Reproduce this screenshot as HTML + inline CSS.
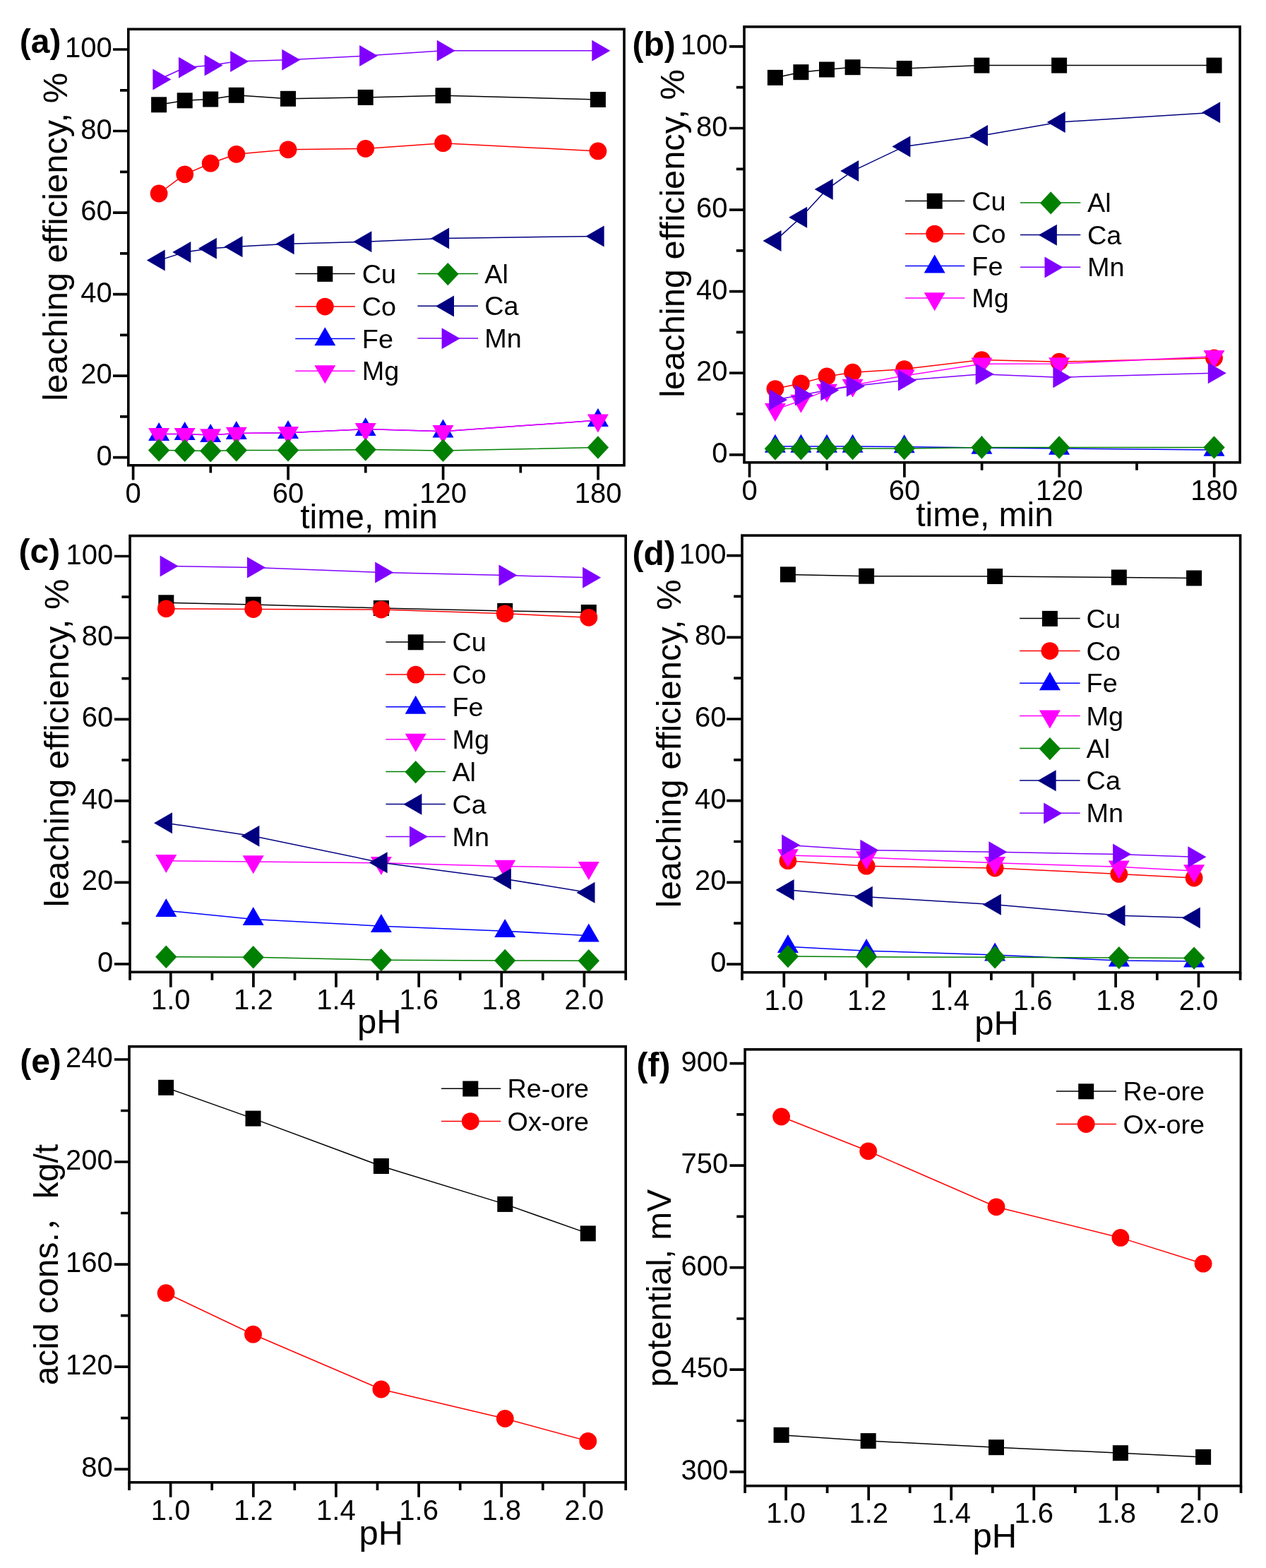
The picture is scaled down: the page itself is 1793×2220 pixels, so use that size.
<!DOCTYPE html>
<html lang="en">
<head>
<meta charset="utf-8">
<title>Leaching efficiency, acid consumption and potential</title>
<style>
html,body{margin:0;padding:0;background:#fff;}
body{width:1793px;height:2220px;overflow:hidden;}
svg{display:block;}
svg text{font-family:"Liberation Sans", "Noto Sans CJK SC", sans-serif;fill:#000;}
</style>
</head>
<body>
<svg width="1793" height="2220" viewBox="0 0 1793 2220">
<rect width="1793" height="2220" fill="#fff"/>
<g>
<polyline points="225.1,148.3 261.7,142.3 298.2,140.5 334.8,134.8 408,139.8 517.7,137.9 627.5,135.3 846.9,141" fill="none" stroke="#000000" stroke-width="1.5"/>
<rect x="214.1" y="137.3" width="22" height="22" fill="#000000"/>
<rect x="250.7" y="131.3" width="22" height="22" fill="#000000"/>
<rect x="287.2" y="129.5" width="22" height="22" fill="#000000"/>
<rect x="323.8" y="123.8" width="22" height="22" fill="#000000"/>
<rect x="397" y="128.8" width="22" height="22" fill="#000000"/>
<rect x="506.7" y="126.9" width="22" height="22" fill="#000000"/>
<rect x="616.5" y="124.3" width="22" height="22" fill="#000000"/>
<rect x="835.9" y="130" width="22" height="22" fill="#000000"/>
<polyline points="225.1,274 261.7,246.8 298.2,231.2 334.8,218.3 408,211.8 517.7,210.5 627.5,202.7 846.9,213.9" fill="none" stroke="#ff0000" stroke-width="1.5"/>
<circle cx="225.1" cy="274" r="12.4" fill="#ff0000"/>
<circle cx="261.7" cy="246.8" r="12.4" fill="#ff0000"/>
<circle cx="298.2" cy="231.2" r="12.4" fill="#ff0000"/>
<circle cx="334.8" cy="218.3" r="12.4" fill="#ff0000"/>
<circle cx="408" cy="211.8" r="12.4" fill="#ff0000"/>
<circle cx="517.7" cy="210.5" r="12.4" fill="#ff0000"/>
<circle cx="627.5" cy="202.7" r="12.4" fill="#ff0000"/>
<circle cx="846.9" cy="213.9" r="12.4" fill="#ff0000"/>
<polyline points="225.1,614.6 261.7,614.6 298.2,615.9 334.8,613.5 408,612.8 517.7,607.6 627.5,610.7 846.9,595.1" fill="none" stroke="#0000ff" stroke-width="1.5"/>
<polygon points="225.1,598.1 240.1,624.1 210.1,624.1" fill="#0000ff"/>
<polygon points="261.7,597 276.7,623 246.7,623" fill="#0000ff"/>
<polygon points="298.2,600.1 313.2,626.1 283.2,626.1" fill="#0000ff"/>
<polygon points="334.8,596.1 349.8,622.1 319.8,622.1" fill="#0000ff"/>
<polygon points="408,594.9 423,620.9 393,620.9" fill="#0000ff"/>
<polygon points="517.7,590.9 532.7,616.9 502.7,616.9" fill="#0000ff"/>
<polygon points="627.5,593.5 642.5,619.5 612.5,619.5" fill="#0000ff"/>
<polygon points="846.9,577.9 861.9,603.9 831.9,603.9" fill="#0000ff"/>
<polyline points="225.1,614.6 261.7,614.6 298.2,615.9 334.8,613.5 408,612.8 517.7,607.6 627.5,610.7 846.9,595.1" fill="none" stroke="#ff00ff" stroke-width="1.5"/>
<polygon points="225.1,631.9 240.1,605.9 210.1,605.9" fill="#ff00ff"/>
<polygon points="261.7,631.9 276.7,605.9 246.7,605.9" fill="#ff00ff"/>
<polygon points="298.2,633.2 313.2,607.2 283.2,607.2" fill="#ff00ff"/>
<polygon points="334.8,630.8 349.8,604.8 319.8,604.8" fill="#ff00ff"/>
<polygon points="408,630.1 423,604.1 393,604.1" fill="#ff00ff"/>
<polygon points="517.7,624.9 532.7,598.9 502.7,598.9" fill="#ff00ff"/>
<polygon points="627.5,628 642.5,602 612.5,602" fill="#ff00ff"/>
<polygon points="846.9,612.4 861.9,586.4 831.9,586.4" fill="#ff00ff"/>
<polyline points="225.1,637.4 261.7,637.9 298.2,638.4 334.8,637.4 408,637.4 517.7,636.6 627.5,637.9 846.9,633.5" fill="none" stroke="#008000" stroke-width="1.5"/>
<polygon points="225.1,621.2 240.3,637.4 225.1,653.6 209.9,637.4" fill="#008000"/>
<polygon points="261.7,621.7 276.9,637.9 261.7,654.1 246.5,637.9" fill="#008000"/>
<polygon points="298.2,622.2 313.4,638.4 298.2,654.6 283,638.4" fill="#008000"/>
<polygon points="334.8,621.2 350,637.4 334.8,653.6 319.6,637.4" fill="#008000"/>
<polygon points="408,621.2 423.2,637.4 408,653.6 392.8,637.4" fill="#008000"/>
<polygon points="517.7,620.4 532.9,636.6 517.7,652.8 502.5,636.6" fill="#008000"/>
<polygon points="627.5,621.7 642.7,637.9 627.5,654.1 612.3,637.9" fill="#008000"/>
<polygon points="846.9,617.3 862.1,633.5 846.9,649.7 831.7,633.5" fill="#008000"/>
<polyline points="225.1,368.6 261.7,357 298.2,351.8 334.8,349.2 408,345.3 517.7,342.2 627.5,337.5 846.9,334.4" fill="none" stroke="#000080" stroke-width="1.5"/>
<polygon points="207.8,368.6 233.7,353.6 233.7,383.6" fill="#000080"/>
<polygon points="244.3,357 270.3,342 270.3,372" fill="#000080"/>
<polygon points="280.9,351.8 306.9,336.8 306.9,366.8" fill="#000080"/>
<polygon points="317.5,349.2 343.5,334.2 343.5,364.2" fill="#000080"/>
<polygon points="390.7,345.3 416.6,330.3 416.6,360.3" fill="#000080"/>
<polygon points="500.4,342.2 526.4,327.2 526.4,357.2" fill="#000080"/>
<polygon points="610.1,337.5 636.1,322.5 636.1,352.5" fill="#000080"/>
<polygon points="829.6,334.4 855.6,319.4 855.6,349.4" fill="#000080"/>
<polyline points="225.1,112.5 261.7,95.7 298.2,92.6 334.8,86.9 408,84.8 517.7,79.1 627.5,71.8 846.9,71.8" fill="none" stroke="#8000ff" stroke-width="1.5"/>
<polygon points="242.4,112.5 216.4,97.5 216.4,127.5" fill="#8000ff"/>
<polygon points="279,95.7 253,80.7 253,110.7" fill="#8000ff"/>
<polygon points="315.6,92.6 289.6,77.6 289.6,107.6" fill="#8000ff"/>
<polygon points="352.1,86.9 326.2,71.9 326.2,101.9" fill="#8000ff"/>
<polygon points="425.3,84.8 399.3,69.8 399.3,99.8" fill="#8000ff"/>
<polygon points="535,79.1 509.1,64.1 509.1,94.1" fill="#8000ff"/>
<polygon points="644.8,71.8 618.8,56.8 618.8,86.8" fill="#8000ff"/>
<polygon points="864.3,71.8 838.3,56.8 838.3,86.8" fill="#8000ff"/>
<rect x="181.8" y="41.3" width="702.2" height="617.5" fill="none" stroke="#000" stroke-width="3.6"/>
<path d="M160 647.7H181.8M160 532.2H181.8M160 416.6H181.8M160 301.1H181.8M160 185.5H181.8M160 70H181.8M170 589.9H181.8M170 474.4H181.8M170 358.9H181.8M170 243.3H181.8M170 127.8H181.8M188.6 658.8V679.6M408.1 658.8V679.6M627.6 658.8V679.6M847.1 658.8V679.6M298.3 658.8V669.6M517.8 658.8V669.6M737.3 658.8V669.6" fill="none" stroke="#000" stroke-width="3.7"/>
<text x="158.8" y="658.7" font-size="40" text-anchor="end">0</text>
<text x="158.8" y="543.2" font-size="40" text-anchor="end">20</text>
<text x="158.8" y="427.6" font-size="40" text-anchor="end">40</text>
<text x="158.8" y="312.1" font-size="40" text-anchor="end">60</text>
<text x="158.8" y="196.5" font-size="40" text-anchor="end">80</text>
<text x="158.8" y="81" font-size="40" text-anchor="end">100</text>
<text x="188.6" y="712.2" font-size="40" text-anchor="middle">0</text>
<text x="408.1" y="712.2" font-size="40" text-anchor="middle">60</text>
<text x="627.6" y="712.2" font-size="40" text-anchor="middle">120</text>
<text x="847.1" y="712.2" font-size="40" text-anchor="middle">180</text>
<text x="522.6" y="748" font-size="48" text-anchor="middle">time, min</text>
<text x="95" y="335.3" font-size="48.8" text-anchor="middle" transform="rotate(-90 95 335.3)">leaching efficiency, %</text>
<text x="27.8" y="74.5" font-size="48" font-weight="bold">(a)</text>
<path d="M418.3 387.6H502.8" stroke="#000000" stroke-width="1.5"/>
<rect x="449.3" y="376.9" width="22" height="22" fill="#000000"/>
<text x="512.8" y="400.7" font-size="37.8">Cu</text>
<path d="M418.3 433.9H502.8" stroke="#ff0000" stroke-width="1.5"/>
<circle cx="460.3" cy="434.1" r="12.4" fill="#ff0000"/>
<text x="512.8" y="447" font-size="37.8">Co</text>
<path d="M418.3 479.4H502.8" stroke="#0000ff" stroke-width="1.5"/>
<polygon points="460.3,463.3 475.3,489.3 445.3,489.3" fill="#0000ff"/>
<text x="512.8" y="492.5" font-size="37.8">Fe</text>
<path d="M418.3 525.2H502.8" stroke="#ff00ff" stroke-width="1.5"/>
<polygon points="460.3,543.3 475.3,517.3 445.3,517.3" fill="#ff00ff"/>
<text x="512.8" y="538.3" font-size="37.8">Mg</text>
<path d="M591.5 387.6H677" stroke="#008000" stroke-width="1.5"/>
<polygon points="634.3,371.9 649.5,388.1 634.3,404.3 619.1,388.1" fill="#008000"/>
<text x="686.3" y="400.7" font-size="37.8">Al</text>
<path d="M591.5 433.2H677" stroke="#000080" stroke-width="1.5"/>
<polygon points="617,433.4 643,418.4 643,448.4" fill="#000080"/>
<text x="686.3" y="446.3" font-size="37.8">Ca</text>
<path d="M591.5 479.1H677" stroke="#8000ff" stroke-width="1.5"/>
<polygon points="651.6,479.3 625.6,464.3 625.6,494.3" fill="#8000ff"/>
<text x="686.3" y="492.2" font-size="37.8">Mn</text>
</g>
<g>
<polyline points="1097.9,109.9 1134.4,102.2 1171,98.5 1207.6,95.2 1280.7,97 1390.4,92.6 1500.1,92.6 1719.5,92.6" fill="none" stroke="#000000" stroke-width="1.5"/>
<rect x="1086.9" y="98.9" width="22" height="22" fill="#000000"/>
<rect x="1123.4" y="91.2" width="22" height="22" fill="#000000"/>
<rect x="1160" y="87.5" width="22" height="22" fill="#000000"/>
<rect x="1196.6" y="84.2" width="22" height="22" fill="#000000"/>
<rect x="1269.7" y="86" width="22" height="22" fill="#000000"/>
<rect x="1379.4" y="81.6" width="22" height="22" fill="#000000"/>
<rect x="1489.1" y="81.6" width="22" height="22" fill="#000000"/>
<rect x="1708.5" y="81.6" width="22" height="22" fill="#000000"/>
<polyline points="1097.9,550.6 1134.4,542.8 1171,532.9 1207.6,527.2 1280.7,522.6 1390.4,509.6 1500.1,512.2 1719.5,507" fill="none" stroke="#ff0000" stroke-width="1.5"/>
<circle cx="1097.9" cy="550.6" r="12.4" fill="#ff0000"/>
<circle cx="1134.4" cy="542.8" r="12.4" fill="#ff0000"/>
<circle cx="1171" cy="532.9" r="12.4" fill="#ff0000"/>
<circle cx="1207.6" cy="527.2" r="12.4" fill="#ff0000"/>
<circle cx="1280.7" cy="522.6" r="12.4" fill="#ff0000"/>
<circle cx="1390.4" cy="509.6" r="12.4" fill="#ff0000"/>
<circle cx="1500.1" cy="512.2" r="12.4" fill="#ff0000"/>
<circle cx="1719.5" cy="507" r="12.4" fill="#ff0000"/>
<polyline points="1097.9,632 1134.4,632 1171,632 1207.6,632 1280.7,632.5 1390.4,634 1500.1,635 1719.5,637" fill="none" stroke="#0000ff" stroke-width="1.5"/>
<polygon points="1097.9,614.7 1112.9,640.7 1082.9,640.7" fill="#0000ff"/>
<polygon points="1134.4,614.7 1149.4,640.7 1119.4,640.7" fill="#0000ff"/>
<polygon points="1171,614.7 1186,640.7 1156,640.7" fill="#0000ff"/>
<polygon points="1207.6,614.7 1222.6,640.7 1192.6,640.7" fill="#0000ff"/>
<polygon points="1280.7,615.2 1295.7,641.2 1265.7,641.2" fill="#0000ff"/>
<polygon points="1390.4,616.7 1405.4,642.7 1375.4,642.7" fill="#0000ff"/>
<polygon points="1500.1,617.7 1515.1,643.7 1485.1,643.7" fill="#0000ff"/>
<polygon points="1719.5,619.7 1734.5,645.7 1704.5,645.7" fill="#0000ff"/>
<polyline points="1097.9,579.8 1134.4,567.4 1171,552.4 1207.6,545.4 1280.7,532 1390.4,515.3 1500.1,515 1719.5,504.7" fill="none" stroke="#ff00ff" stroke-width="1.5"/>
<polygon points="1097.9,597.1 1112.9,571.1 1082.9,571.1" fill="#ff00ff"/>
<polygon points="1134.4,584.7 1149.4,558.7 1119.4,558.7" fill="#ff00ff"/>
<polygon points="1171,569.7 1186,543.7 1156,543.7" fill="#ff00ff"/>
<polygon points="1207.6,562.7 1222.6,536.7 1192.6,536.7" fill="#ff00ff"/>
<polygon points="1280.7,549.3 1295.7,523.3 1265.7,523.3" fill="#ff00ff"/>
<polygon points="1390.4,532.6 1405.4,506.6 1375.4,506.6" fill="#ff00ff"/>
<polygon points="1500.1,532.3 1515.1,506.3 1485.1,506.3" fill="#ff00ff"/>
<polygon points="1719.5,522 1734.5,496 1704.5,496" fill="#ff00ff"/>
<polyline points="1097.9,635.3 1134.4,635.3 1171,635.3 1207.6,635 1280.7,635 1390.4,633.5 1500.1,633.5 1719.5,633.5" fill="none" stroke="#008000" stroke-width="1.5"/>
<polygon points="1097.9,619.1 1113.1,635.3 1097.9,651.5 1082.7,635.3" fill="#008000"/>
<polygon points="1134.4,619.1 1149.6,635.3 1134.4,651.5 1119.2,635.3" fill="#008000"/>
<polygon points="1171,619.1 1186.2,635.3 1171,651.5 1155.8,635.3" fill="#008000"/>
<polygon points="1207.6,618.8 1222.8,635 1207.6,651.2 1192.4,635" fill="#008000"/>
<polygon points="1280.7,618.8 1295.9,635 1280.7,651.2 1265.5,635" fill="#008000"/>
<polygon points="1390.4,617.3 1405.6,633.5 1390.4,649.7 1375.2,633.5" fill="#008000"/>
<polygon points="1500.1,617.3 1515.3,633.5 1500.1,649.7 1484.9,633.5" fill="#008000"/>
<polygon points="1719.5,617.3 1734.7,633.5 1719.5,649.7 1704.3,633.5" fill="#008000"/>
<polyline points="1097.9,340.9 1134.4,307.7 1171,268.1 1207.6,242.1 1280.7,207.4 1390.4,191.9 1500.1,172.9 1719.5,159.2" fill="none" stroke="#000080" stroke-width="1.5"/>
<polygon points="1080.5,340.9 1106.5,325.9 1106.5,355.9" fill="#000080"/>
<polygon points="1117.1,307.7 1143.1,292.7 1143.1,322.7" fill="#000080"/>
<polygon points="1153.7,268.1 1179.7,253.1 1179.7,283.1" fill="#000080"/>
<polygon points="1190.2,242.1 1216.2,227.1 1216.2,257.1" fill="#000080"/>
<polygon points="1263.4,207.4 1289.4,192.4 1289.4,222.4" fill="#000080"/>
<polygon points="1373.1,191.9 1399,176.9 1399,206.9" fill="#000080"/>
<polygon points="1482.8,172.9 1508.7,157.9 1508.7,187.9" fill="#000080"/>
<polygon points="1702.1,159.2 1728.1,144.2 1728.1,174.2" fill="#000080"/>
<polyline points="1097.9,566.1 1134.4,559.4 1171,552.4 1207.6,546.7 1280.7,538.6 1390.4,529.8 1500.1,534.2 1719.5,528.3" fill="none" stroke="#8000ff" stroke-width="1.5"/>
<polygon points="1115.2,566.1 1089.2,551.1 1089.2,581.1" fill="#8000ff"/>
<polygon points="1151.8,559.4 1125.8,544.4 1125.8,574.4" fill="#8000ff"/>
<polygon points="1188.3,552.4 1162.3,537.4 1162.3,567.4" fill="#8000ff"/>
<polygon points="1224.9,546.7 1198.9,531.7 1198.9,561.7" fill="#8000ff"/>
<polygon points="1298,538.6 1272,523.6 1272,553.6" fill="#8000ff"/>
<polygon points="1407.7,529.8 1381.7,514.8 1381.7,544.8" fill="#8000ff"/>
<polygon points="1517.4,534.2 1491.4,519.2 1491.4,549.2" fill="#8000ff"/>
<polygon points="1736.8,528.3 1710.8,513.3 1710.8,543.3" fill="#8000ff"/>
<rect x="1054" y="37.9" width="702.1" height="616.9" fill="none" stroke="#000" stroke-width="3.6"/>
<path d="M1033 643.8H1054M1033 528.2H1054M1033 412.6H1054M1033 297.1H1054M1033 181.5H1054M1033 65.9H1054M1042.8 586H1054M1042.8 470.4H1054M1042.8 354.8H1054M1042.8 239.3H1054M1042.8 123.7H1054M1061.5 654.8V675.7M1280.9 654.8V675.7M1500.3 654.8V675.7M1719.7 654.8V675.7M1171.2 654.8V665.7M1390.6 654.8V665.7M1610 654.8V665.7" fill="none" stroke="#000" stroke-width="3.7"/>
<text x="1030.4" y="654.8" font-size="40" text-anchor="end">0</text>
<text x="1030.4" y="539.2" font-size="40" text-anchor="end">20</text>
<text x="1030.4" y="423.6" font-size="40" text-anchor="end">40</text>
<text x="1030.4" y="308.1" font-size="40" text-anchor="end">60</text>
<text x="1030.4" y="192.5" font-size="40" text-anchor="end">80</text>
<text x="1030.4" y="76.9" font-size="40" text-anchor="end">100</text>
<text x="1061.5" y="707.9" font-size="40" text-anchor="middle">0</text>
<text x="1280.9" y="707.9" font-size="40" text-anchor="middle">60</text>
<text x="1500.3" y="707.9" font-size="40" text-anchor="middle">120</text>
<text x="1719.7" y="707.9" font-size="40" text-anchor="middle">180</text>
<text x="1394.6" y="745.3" font-size="48" text-anchor="middle">time, min</text>
<text x="969.5" y="330.4" font-size="48.8" text-anchor="middle" transform="rotate(-90 969.5 330.4)">leaching efficiency, %</text>
<text x="895.5" y="79.1" font-size="48" font-weight="bold">(b)</text>
<path d="M1281.9 284.4H1366.3" stroke="#000000" stroke-width="1.5"/>
<rect x="1312.7" y="273.7" width="22" height="22" fill="#000000"/>
<text x="1376.3" y="297.5" font-size="37.8">Cu</text>
<path d="M1281.9 330.9H1366.3" stroke="#ff0000" stroke-width="1.5"/>
<circle cx="1323.7" cy="331.1" r="12.4" fill="#ff0000"/>
<text x="1376.3" y="344" font-size="37.8">Co</text>
<path d="M1281.9 376.5H1366.3" stroke="#0000ff" stroke-width="1.5"/>
<polygon points="1323.7,360.4 1338.7,386.4 1308.7,386.4" fill="#0000ff"/>
<text x="1376.3" y="389.6" font-size="37.8">Fe</text>
<path d="M1281.9 422.1H1366.3" stroke="#ff00ff" stroke-width="1.5"/>
<polygon points="1323.7,440.2 1338.7,414.2 1308.7,414.2" fill="#ff00ff"/>
<text x="1376.3" y="435.2" font-size="37.8">Mg</text>
<path d="M1445 286.9H1530.3" stroke="#008000" stroke-width="1.5"/>
<polygon points="1488.2,271.2 1503.4,287.4 1488.2,303.6 1473,287.4" fill="#008000"/>
<text x="1540" y="300" font-size="37.8">Al</text>
<path d="M1445 332.6H1530.3" stroke="#000080" stroke-width="1.5"/>
<polygon points="1470.9,332.8 1496.9,317.8 1496.9,347.8" fill="#000080"/>
<text x="1540" y="345.7" font-size="37.8">Ca</text>
<path d="M1445 378.3H1530.3" stroke="#8000ff" stroke-width="1.5"/>
<polygon points="1505.5,378.5 1479.5,363.5 1479.5,393.5" fill="#8000ff"/>
<text x="1540" y="391.4" font-size="37.8">Mn</text>
</g>
<g>
<polyline points="235.3,853.3 358.7,855.9 539.9,861 715.2,864.9 833.8,867" fill="none" stroke="#000000" stroke-width="1.5"/>
<rect x="224.3" y="842.3" width="22" height="22" fill="#000000"/>
<rect x="347.7" y="844.9" width="22" height="22" fill="#000000"/>
<rect x="528.9" y="850" width="22" height="22" fill="#000000"/>
<rect x="704.2" y="853.9" width="22" height="22" fill="#000000"/>
<rect x="822.8" y="856" width="22" height="22" fill="#000000"/>
<polyline points="235.3,861.8 358.7,862.6 539.9,863.1 715.2,868.8 833.8,874.3" fill="none" stroke="#ff0000" stroke-width="1.5"/>
<circle cx="235.3" cy="861.8" r="12.4" fill="#ff0000"/>
<circle cx="358.7" cy="862.6" r="12.4" fill="#ff0000"/>
<circle cx="539.9" cy="863.1" r="12.4" fill="#ff0000"/>
<circle cx="715.2" cy="868.8" r="12.4" fill="#ff0000"/>
<circle cx="833.8" cy="874.3" r="12.4" fill="#ff0000"/>
<polyline points="235.3,1289.2 358.7,1301.4 539.9,1311.2 715.2,1318.2 833.8,1324.7" fill="none" stroke="#0000ff" stroke-width="1.5"/>
<polygon points="235.3,1271.9 250.3,1297.9 220.3,1297.9" fill="#0000ff"/>
<polygon points="358.7,1284.1 373.7,1310.1 343.7,1310.1" fill="#0000ff"/>
<polygon points="539.9,1293.9 554.9,1319.9 524.9,1319.9" fill="#0000ff"/>
<polygon points="715.2,1300.9 730.2,1326.9 700.2,1326.9" fill="#0000ff"/>
<polygon points="833.8,1307.4 848.8,1333.4 818.8,1333.4" fill="#0000ff"/>
<polyline points="235.3,1218.7 358.7,1220 539.9,1221.8 715.2,1226.5 833.8,1228.6" fill="none" stroke="#ff00ff" stroke-width="1.5"/>
<polygon points="235.3,1236 250.3,1210 220.3,1210" fill="#ff00ff"/>
<polygon points="358.7,1237.3 373.7,1211.3 343.7,1211.3" fill="#ff00ff"/>
<polygon points="539.9,1239.1 554.9,1213.1 524.9,1213.1" fill="#ff00ff"/>
<polygon points="715.2,1243.8 730.2,1217.8 700.2,1217.8" fill="#ff00ff"/>
<polygon points="833.8,1245.9 848.8,1219.9 818.8,1219.9" fill="#ff00ff"/>
<polyline points="235.3,1354.8 358.7,1355.2 539.9,1359.2 715.2,1360 833.8,1360.3" fill="none" stroke="#008000" stroke-width="1.5"/>
<polygon points="235.3,1338.6 250.5,1354.8 235.3,1371 220.1,1354.8" fill="#008000"/>
<polygon points="358.7,1339 373.9,1355.2 358.7,1371.4 343.5,1355.2" fill="#008000"/>
<polygon points="539.9,1343 555.1,1359.2 539.9,1375.4 524.7,1359.2" fill="#008000"/>
<polygon points="715.2,1343.8 730.4,1360 715.2,1376.2 700,1360" fill="#008000"/>
<polygon points="833.8,1344.1 849,1360.3 833.8,1376.5 818.6,1360.3" fill="#008000"/>
<polyline points="235.3,1165.3 358.7,1183.7 539.9,1221.3 715.2,1244.4 833.8,1263.8" fill="none" stroke="#000080" stroke-width="1.5"/>
<polygon points="218,1165.3 244,1150.3 244,1180.3" fill="#000080"/>
<polygon points="341.4,1183.7 367.4,1168.7 367.4,1198.7" fill="#000080"/>
<polygon points="522.6,1221.3 548.6,1206.3 548.6,1236.3" fill="#000080"/>
<polygon points="697.9,1244.4 723.9,1229.4 723.9,1259.4" fill="#000080"/>
<polygon points="816.5,1263.8 842.5,1248.8 842.5,1278.8" fill="#000080"/>
<polyline points="235.3,801.4 358.7,803.5 539.9,810.5 715.2,814.6 833.8,817.8" fill="none" stroke="#8000ff" stroke-width="1.5"/>
<polygon points="252.6,801.4 226.6,786.4 226.6,816.4" fill="#8000ff"/>
<polygon points="376,803.5 350,788.5 350,818.5" fill="#8000ff"/>
<polygon points="557.2,810.5 531.2,795.5 531.2,825.5" fill="#8000ff"/>
<polygon points="732.5,814.6 706.5,799.6 706.5,829.6" fill="#8000ff"/>
<polygon points="851.1,817.8 825.1,802.8 825.1,832.8" fill="#8000ff"/>
<rect x="184" y="758.6" width="702.2" height="617.7" fill="none" stroke="#000" stroke-width="3.6"/>
<path d="M162 1364.8H184M162 1249.3H184M162 1133.9H184M162 1018.4H184M162 903H184M162 787.5H184M172.4 1307.1H184M172.4 1191.6H184M172.4 1076.2H184M172.4 960.7H184M172.4 845.2H184M241.8 1376.3V1397.7M358.9 1376.3V1397.7M476 1376.3V1397.7M593.2 1376.3V1397.7M710.3 1376.3V1397.7M827.4 1376.3V1397.7M184 1376.3V1387.8M300.4 1376.3V1387.8M417.5 1376.3V1387.8M534.6 1376.3V1387.8M651.7 1376.3V1387.8M768.8 1376.3V1387.8M886.2 1376.3V1387.8" fill="none" stroke="#000" stroke-width="3.7"/>
<text x="160.2" y="1375.8" font-size="40" text-anchor="end">0</text>
<text x="160.2" y="1260.3" font-size="40" text-anchor="end">20</text>
<text x="160.2" y="1144.9" font-size="40" text-anchor="end">40</text>
<text x="160.2" y="1029.4" font-size="40" text-anchor="end">60</text>
<text x="160.2" y="914" font-size="40" text-anchor="end">80</text>
<text x="160.2" y="798.5" font-size="40" text-anchor="end">100</text>
<text x="241.8" y="1429.2" font-size="40" text-anchor="middle">1.0</text>
<text x="358.9" y="1429.2" font-size="40" text-anchor="middle">1.2</text>
<text x="476" y="1429.2" font-size="40" text-anchor="middle">1.4</text>
<text x="593.2" y="1429.2" font-size="40" text-anchor="middle">1.6</text>
<text x="710.3" y="1429.2" font-size="40" text-anchor="middle">1.8</text>
<text x="827.4" y="1429.2" font-size="40" text-anchor="middle">2.0</text>
<text x="537.2" y="1463" font-size="49" text-anchor="middle">pH</text>
<text x="97.2" y="1052" font-size="48.8" text-anchor="middle" transform="rotate(-90 97.2 1052)">leaching efficiency, %</text>
<text x="26.6" y="796.5" font-size="48" font-weight="bold">(c)</text>
<path d="M546.4 909H630.9" stroke="#000000" stroke-width="1.5"/>
<rect x="577.7" y="898.3" width="22" height="22" fill="#000000"/>
<text x="640.4" y="922.1" font-size="37.8">Cu</text>
<path d="M546.4 955H630.9" stroke="#ff0000" stroke-width="1.5"/>
<circle cx="588.7" cy="955.2" r="12.4" fill="#ff0000"/>
<text x="640.4" y="968.1" font-size="37.8">Co</text>
<path d="M546.4 1000.8H630.9" stroke="#0000ff" stroke-width="1.5"/>
<polygon points="588.7,984.7 603.7,1010.7 573.7,1010.7" fill="#0000ff"/>
<text x="640.4" y="1013.9" font-size="37.8">Fe</text>
<path d="M546.4 1046.7H630.9" stroke="#ff00ff" stroke-width="1.5"/>
<polygon points="588.7,1064.8 603.7,1038.8 573.7,1038.8" fill="#ff00ff"/>
<text x="640.4" y="1059.8" font-size="37.8">Mg</text>
<path d="M546.4 1092.6H630.9" stroke="#008000" stroke-width="1.5"/>
<polygon points="588.7,1076.9 603.9,1093.1 588.7,1109.3 573.5,1093.1" fill="#008000"/>
<text x="640.4" y="1105.7" font-size="37.8">Al</text>
<path d="M546.4 1138.5H630.9" stroke="#000080" stroke-width="1.5"/>
<polygon points="571.4,1138.7 597.4,1123.7 597.4,1153.7" fill="#000080"/>
<text x="640.4" y="1151.6" font-size="37.8">Ca</text>
<path d="M546.4 1184.4H630.9" stroke="#8000ff" stroke-width="1.5"/>
<polygon points="606,1184.6 580,1169.6 580,1199.6" fill="#8000ff"/>
<text x="640.4" y="1197.5" font-size="37.8">Mn</text>
</g>
<g>
<polyline points="1115.9,813.4 1227.1,815.7 1409.1,816 1584.8,817.5 1691.1,818.5" fill="none" stroke="#000000" stroke-width="1.5"/>
<rect x="1104.9" y="802.4" width="22" height="22" fill="#000000"/>
<rect x="1216.1" y="804.7" width="22" height="22" fill="#000000"/>
<rect x="1398.1" y="805" width="22" height="22" fill="#000000"/>
<rect x="1573.8" y="806.5" width="22" height="22" fill="#000000"/>
<rect x="1680.1" y="807.5" width="22" height="22" fill="#000000"/>
<polyline points="1115.9,1218.7 1227.1,1226.2 1409.1,1229.1 1584.8,1237.4 1691.1,1243.1" fill="none" stroke="#ff0000" stroke-width="1.5"/>
<circle cx="1115.9" cy="1218.7" r="12.4" fill="#ff0000"/>
<circle cx="1227.1" cy="1226.2" r="12.4" fill="#ff0000"/>
<circle cx="1409.1" cy="1229.1" r="12.4" fill="#ff0000"/>
<circle cx="1584.8" cy="1237.4" r="12.4" fill="#ff0000"/>
<circle cx="1691.1" cy="1243.1" r="12.4" fill="#ff0000"/>
<polyline points="1115.9,1340.3 1227.1,1346.2 1409.1,1351.9 1584.8,1359.9 1691.1,1360.9" fill="none" stroke="#0000ff" stroke-width="1.5"/>
<polygon points="1115.9,1323 1130.9,1349 1100.9,1349" fill="#0000ff"/>
<polygon points="1227.1,1328.9 1242.1,1354.9 1212.1,1354.9" fill="#0000ff"/>
<polygon points="1409.1,1334.6 1424.1,1360.6 1394.1,1360.6" fill="#0000ff"/>
<polygon points="1584.8,1342.6 1599.8,1368.6 1569.8,1368.6" fill="#0000ff"/>
<polygon points="1691.1,1343.6 1706.1,1369.6 1676.1,1369.6" fill="#0000ff"/>
<polyline points="1115.9,1210.9 1227.1,1214 1409.1,1221.8 1584.8,1227.3 1691.1,1233" fill="none" stroke="#ff00ff" stroke-width="1.5"/>
<polygon points="1115.9,1228.2 1130.9,1202.2 1100.9,1202.2" fill="#ff00ff"/>
<polygon points="1227.1,1231.3 1242.1,1205.3 1212.1,1205.3" fill="#ff00ff"/>
<polygon points="1409.1,1239.1 1424.1,1213.1 1394.1,1213.1" fill="#ff00ff"/>
<polygon points="1584.8,1244.6 1599.8,1218.6 1569.8,1218.6" fill="#ff00ff"/>
<polygon points="1691.1,1250.3 1706.1,1224.3 1676.1,1224.3" fill="#ff00ff"/>
<polyline points="1115.9,1354 1227.1,1354.8 1409.1,1355.3 1584.8,1356.1 1691.1,1356.6" fill="none" stroke="#008000" stroke-width="1.5"/>
<polygon points="1115.9,1337.8 1131.1,1354 1115.9,1370.2 1100.7,1354" fill="#008000"/>
<polygon points="1227.1,1338.6 1242.3,1354.8 1227.1,1371 1211.9,1354.8" fill="#008000"/>
<polygon points="1409.1,1339.1 1424.3,1355.3 1409.1,1371.5 1393.9,1355.3" fill="#008000"/>
<polygon points="1584.8,1339.9 1600,1356.1 1584.8,1372.3 1569.6,1356.1" fill="#008000"/>
<polygon points="1691.1,1340.4 1706.3,1356.6 1691.1,1372.8 1675.9,1356.6" fill="#008000"/>
<polyline points="1115.9,1259.9 1227.1,1269.8 1409.1,1280.7 1584.8,1296.2 1691.1,1299.6" fill="none" stroke="#000080" stroke-width="1.5"/>
<polygon points="1098.6,1259.9 1124.6,1244.9 1124.6,1274.9" fill="#000080"/>
<polygon points="1209.8,1269.8 1235.8,1254.8 1235.8,1284.8" fill="#000080"/>
<polygon points="1391.8,1280.7 1417.8,1265.7 1417.8,1295.7" fill="#000080"/>
<polygon points="1567.5,1296.2 1593.5,1281.2 1593.5,1311.2" fill="#000080"/>
<polygon points="1673.8,1299.6 1699.8,1284.6 1699.8,1314.6" fill="#000080"/>
<polyline points="1115.9,1196.4 1227.1,1203.7 1409.1,1206.3 1584.8,1209.6 1691.1,1213.3" fill="none" stroke="#8000ff" stroke-width="1.5"/>
<polygon points="1133.2,1196.4 1107.2,1181.4 1107.2,1211.4" fill="#8000ff"/>
<polygon points="1244.4,1203.7 1218.4,1188.7 1218.4,1218.7" fill="#8000ff"/>
<polygon points="1426.4,1206.3 1400.4,1191.3 1400.4,1221.3" fill="#8000ff"/>
<polygon points="1602.1,1209.6 1576.1,1194.6 1576.1,1224.6" fill="#8000ff"/>
<polygon points="1708.4,1213.3 1682.4,1198.3 1682.4,1228.3" fill="#8000ff"/>
<rect x="1051" y="758.1" width="705.6" height="618.6" fill="none" stroke="#000" stroke-width="3.6"/>
<path d="M1029.2 1365.1H1051M1029.2 1249.4H1051M1029.2 1133.7H1051M1029.2 1018H1051M1029.2 902.3H1051M1029.2 786.6H1051M1039.2 1307.2H1051M1039.2 1191.5H1051M1039.2 1075.8H1051M1039.2 960.1H1051M1039.2 844.4H1051M1110.3 1376.7V1397.9M1227.7 1376.7V1397.9M1345.2 1376.7V1397.9M1462.6 1376.7V1397.9M1580.1 1376.7V1397.9M1697.5 1376.7V1397.9M1051 1376.7V1387.8M1169 1376.7V1387.8M1286.5 1376.7V1387.8M1403.9 1376.7V1387.8M1521.3 1376.7V1387.8M1638.8 1376.7V1387.8M1756.6 1376.7V1387.8" fill="none" stroke="#000" stroke-width="3.7"/>
<text x="1028.6" y="1376.1" font-size="40" text-anchor="end">0</text>
<text x="1028.6" y="1260.4" font-size="40" text-anchor="end">20</text>
<text x="1028.6" y="1144.7" font-size="40" text-anchor="end">40</text>
<text x="1028.6" y="1029" font-size="40" text-anchor="end">60</text>
<text x="1028.6" y="913.3" font-size="40" text-anchor="end">80</text>
<text x="1028.6" y="797.6" font-size="40" text-anchor="end">100</text>
<text x="1110.3" y="1429.7" font-size="40" text-anchor="middle">1.0</text>
<text x="1227.7" y="1429.7" font-size="40" text-anchor="middle">1.2</text>
<text x="1345.2" y="1429.7" font-size="40" text-anchor="middle">1.4</text>
<text x="1462.6" y="1429.7" font-size="40" text-anchor="middle">1.6</text>
<text x="1580.1" y="1429.7" font-size="40" text-anchor="middle">1.8</text>
<text x="1697.5" y="1429.7" font-size="40" text-anchor="middle">2.0</text>
<text x="1411.5" y="1465" font-size="49" text-anchor="middle">pH</text>
<text x="964.3" y="1052.8" font-size="48.8" text-anchor="middle" transform="rotate(-90 964.3 1052.8)">leaching efficiency, %</text>
<text x="895.5" y="800.1" font-size="48" font-weight="bold">(d)</text>
<path d="M1444.1 875.6H1529.6" stroke="#000000" stroke-width="1.5"/>
<rect x="1475.9" y="864.9" width="22" height="22" fill="#000000"/>
<text x="1538.6" y="888.7" font-size="37.8">Cu</text>
<path d="M1444.1 921.4H1529.6" stroke="#ff0000" stroke-width="1.5"/>
<circle cx="1486.9" cy="921.6" r="12.4" fill="#ff0000"/>
<text x="1538.6" y="934.5" font-size="37.8">Co</text>
<path d="M1444.1 967.3H1529.6" stroke="#0000ff" stroke-width="1.5"/>
<polygon points="1486.9,951.2 1501.9,977.2 1471.9,977.2" fill="#0000ff"/>
<text x="1538.6" y="980.4" font-size="37.8">Fe</text>
<path d="M1444.1 1013.5H1529.6" stroke="#ff00ff" stroke-width="1.5"/>
<polygon points="1486.9,1031.6 1501.9,1005.6 1471.9,1005.6" fill="#ff00ff"/>
<text x="1538.6" y="1026.6" font-size="37.8">Mg</text>
<path d="M1444.1 1059.6H1529.6" stroke="#008000" stroke-width="1.5"/>
<polygon points="1486.9,1043.9 1502.1,1060.1 1486.9,1076.3 1471.7,1060.1" fill="#008000"/>
<text x="1538.6" y="1072.7" font-size="37.8">Al</text>
<path d="M1444.1 1105.1H1529.6" stroke="#000080" stroke-width="1.5"/>
<polygon points="1469.6,1105.3 1495.6,1090.3 1495.6,1120.3" fill="#000080"/>
<text x="1538.6" y="1118.2" font-size="37.8">Ca</text>
<path d="M1444.1 1151.3H1529.6" stroke="#8000ff" stroke-width="1.5"/>
<polygon points="1504.2,1151.5 1478.2,1136.5 1478.2,1166.5" fill="#8000ff"/>
<text x="1538.6" y="1164.4" font-size="37.8">Mn</text>
</g>
<g>
<polyline points="235.1,1539.8 358.5,1583.6 539.9,1651 715.3,1704.9 832.8,1746.4" fill="none" stroke="#000000" stroke-width="1.5"/>
<rect x="224.1" y="1528.8" width="22" height="22" fill="#000000"/>
<rect x="347.5" y="1572.6" width="22" height="22" fill="#000000"/>
<rect x="528.9" y="1640" width="22" height="22" fill="#000000"/>
<rect x="704.3" y="1693.9" width="22" height="22" fill="#000000"/>
<rect x="821.8" y="1735.4" width="22" height="22" fill="#000000"/>
<polyline points="235.1,1830.7 358.5,1889.2 539.9,1967 715.3,2008.5 832.8,2040.4" fill="none" stroke="#ff0000" stroke-width="1.5"/>
<circle cx="235.1" cy="1830.7" r="12.4" fill="#ff0000"/>
<circle cx="358.5" cy="1889.2" r="12.4" fill="#ff0000"/>
<circle cx="539.9" cy="1967" r="12.4" fill="#ff0000"/>
<circle cx="715.3" cy="2008.5" r="12.4" fill="#ff0000"/>
<circle cx="832.8" cy="2040.4" r="12.4" fill="#ff0000"/>
<rect x="183" y="1481.7" width="703.2" height="617.1" fill="none" stroke="#000" stroke-width="3.6"/>
<path d="M162 2080.2H183M162 1935.1H183M162 1790.1H183M162 1645H183M162 1500H183M171 2007.7H183M171 1862.6H183M171 1717.5H183M171 1572.5H183M241.6 2098.8V2119.8M358.8 2098.8V2119.8M475.9 2098.8V2119.8M593.1 2098.8V2119.8M710.2 2098.8V2119.8M827.4 2098.8V2119.8M183 2098.8V2109.9M300.2 2098.8V2109.9M417.3 2098.8V2109.9M534.5 2098.8V2109.9M651.7 2098.8V2109.9M768.8 2098.8V2109.9M886.2 2098.8V2109.9" fill="none" stroke="#000" stroke-width="3.7"/>
<text x="159.7" y="2091.2" font-size="40" text-anchor="end">80</text>
<text x="159.7" y="1946.1" font-size="40" text-anchor="end">120</text>
<text x="159.7" y="1801.1" font-size="40" text-anchor="end">160</text>
<text x="159.7" y="1656" font-size="40" text-anchor="end">200</text>
<text x="159.7" y="1511" font-size="40" text-anchor="end">240</text>
<text x="241.6" y="2151.8" font-size="40" text-anchor="middle">1.0</text>
<text x="358.8" y="2151.8" font-size="40" text-anchor="middle">1.2</text>
<text x="475.9" y="2151.8" font-size="40" text-anchor="middle">1.4</text>
<text x="593.1" y="2151.8" font-size="40" text-anchor="middle">1.6</text>
<text x="710.2" y="2151.8" font-size="40" text-anchor="middle">1.8</text>
<text x="827.4" y="2151.8" font-size="40" text-anchor="middle">2.0</text>
<text x="539.8" y="2186.6" font-size="49" text-anchor="middle">pH</text>
<text x="82.4" y="1790.6" font-size="48" text-anchor="middle" transform="rotate(-90 82.4 1790.6)">acid cons.<tspan font-size="40" dx="2" dy="-3">，</tspan><tspan dx="6" dy="3">kg/t</tspan></text>
<text x="28.2" y="1519.1" font-size="48" font-weight="bold">(e)</text>
<path d="M625 1541.2H709.2" stroke="#000000" stroke-width="1.5"/>
<rect x="655.3" y="1530.5" width="22" height="22" fill="#000000"/>
<text x="718.5" y="1554.3" font-size="37.8">Re-ore</text>
<path d="M625 1587.4H709.2" stroke="#ff0000" stroke-width="1.5"/>
<circle cx="666.3" cy="1587.6" r="12.4" fill="#ff0000"/>
<text x="718.5" y="1600.5" font-size="37.8">Ox-ore</text>
</g>
<g>
<polyline points="1106.6,2031.8 1229.7,2040.1 1411,2049.2 1586.9,2057.2 1704.1,2062.9" fill="none" stroke="#000000" stroke-width="1.5"/>
<rect x="1095.6" y="2020.8" width="22" height="22" fill="#000000"/>
<rect x="1218.7" y="2029.1" width="22" height="22" fill="#000000"/>
<rect x="1400" y="2038.2" width="22" height="22" fill="#000000"/>
<rect x="1575.9" y="2046.2" width="22" height="22" fill="#000000"/>
<rect x="1693.1" y="2051.9" width="22" height="22" fill="#000000"/>
<polyline points="1106.6,1581 1229.7,1629.8 1411,1708.8 1586.9,1752.4 1704.1,1789.2" fill="none" stroke="#ff0000" stroke-width="1.5"/>
<circle cx="1106.6" cy="1581" r="12.4" fill="#ff0000"/>
<circle cx="1229.7" cy="1629.8" r="12.4" fill="#ff0000"/>
<circle cx="1411" cy="1708.8" r="12.4" fill="#ff0000"/>
<circle cx="1586.9" cy="1752.4" r="12.4" fill="#ff0000"/>
<circle cx="1704.1" cy="1789.2" r="12.4" fill="#ff0000"/>
<rect x="1055.1" y="1485.8" width="702.4" height="617.9" fill="none" stroke="#000" stroke-width="3.6"/>
<path d="M1033.5 2083.8H1055.1M1033.5 1939.2H1055.1M1033.5 1794.7H1055.1M1033.5 1650.1H1055.1M1033.5 1505.6H1055.1M1043.3 2011.5H1055.1M1043.3 1867H1055.1M1043.3 1722.4H1055.1M1043.3 1577.9H1055.1M1113.1 2103.7V2124.2M1230.2 2103.7V2124.2M1347.2 2103.7V2124.2M1464.3 2103.7V2124.2M1581.3 2103.7V2124.2M1698.4 2103.7V2124.2M1055.1 2103.7V2114.1M1171.6 2103.7V2114.1M1288.7 2103.7V2114.1M1405.8 2103.7V2114.1M1522.8 2103.7V2114.1M1639.9 2103.7V2114.1M1757.5 2103.7V2114.1" fill="none" stroke="#000" stroke-width="3.7"/>
<text x="1031.2" y="2094.8" font-size="40" text-anchor="end">300</text>
<text x="1031.2" y="1950.2" font-size="40" text-anchor="end">450</text>
<text x="1031.2" y="1805.7" font-size="40" text-anchor="end">600</text>
<text x="1031.2" y="1661.1" font-size="40" text-anchor="end">750</text>
<text x="1031.2" y="1516.6" font-size="40" text-anchor="end">900</text>
<text x="1113.1" y="2156.2" font-size="40" text-anchor="middle">1.0</text>
<text x="1230.2" y="2156.2" font-size="40" text-anchor="middle">1.2</text>
<text x="1347.2" y="2156.2" font-size="40" text-anchor="middle">1.4</text>
<text x="1464.3" y="2156.2" font-size="40" text-anchor="middle">1.6</text>
<text x="1581.3" y="2156.2" font-size="40" text-anchor="middle">1.8</text>
<text x="1698.4" y="2156.2" font-size="40" text-anchor="middle">2.0</text>
<text x="1408.7" y="2191.2" font-size="49" text-anchor="middle">pH</text>
<text x="950" y="1823.7" font-size="48" text-anchor="middle" transform="rotate(-90 950 1823.7)">potential, mV</text>
<text x="901.5" y="1523.5" font-size="48" font-weight="bold">(f)</text>
<path d="M1495.9 1545H1581" stroke="#000000" stroke-width="1.5"/>
<rect x="1527.2" y="1534.3" width="22" height="22" fill="#000000"/>
<text x="1590.6" y="1558.1" font-size="37.8">Re-ore</text>
<path d="M1495.9 1591.4H1581" stroke="#ff0000" stroke-width="1.5"/>
<circle cx="1538.2" cy="1591.6" r="12.4" fill="#ff0000"/>
<text x="1590.6" y="1604.5" font-size="37.8">Ox-ore</text>
</g>
</svg>
</body>
</html>
